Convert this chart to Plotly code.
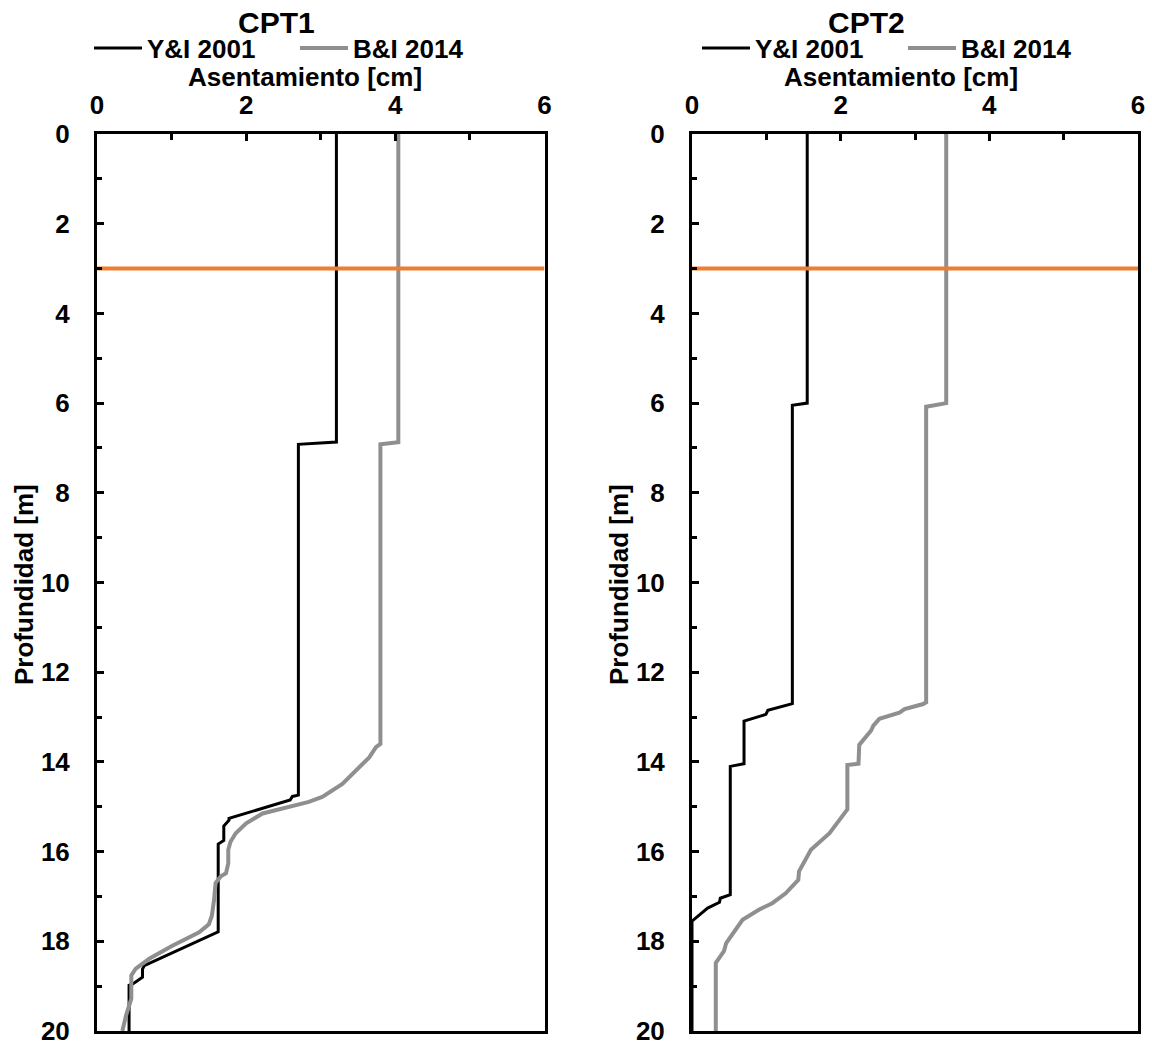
import plotly.graph_objects as go

# ---- settlement profiles: settlement [cm] vs depth [m] ----
# CPT1
cpt1_yi_settle = [3.21, 3.21, 2.70, 2.70, 2.62, 2.59, 1.77, 1.77, 1.70, 1.70, 1.625, 1.625,
                  0.634, 0.61, 0.61, 0.48, 0.43, 0.43]
cpt1_yi_depth = [0.0, 6.87, 6.92, 14.74, 14.77, 14.85, 15.26, 15.30, 15.43, 15.75, 15.83, 17.79,
                 18.54, 18.62, 18.80, 18.95, 18.98, 20.0]

cpt1_bi_settle = [4.04, 4.04, 3.80, 3.80, 3.74, 3.69, 3.65, 3.29, 3.02, 2.84, 2.58, 2.22, 2.00,
                  1.86, 1.79, 1.76, 1.76, 1.73, 1.66, 1.59, 1.57, 1.54, 1.50, 1.37, 1.01, 0.70,
                  0.52, 0.46, 0.46, 0.39, 0.34]
cpt1_bi_depth = [0.0, 6.87, 6.92, 13.60, 13.67, 13.78, 13.90, 14.49, 14.78, 14.89, 15.00, 15.15,
                 15.37, 15.59, 15.78, 15.96, 16.26, 16.48, 16.55, 16.70, 17.07, 17.43, 17.62,
                 17.80, 18.10, 18.39, 18.61, 18.76, 19.28, 19.65, 20.0]

# CPT2
cpt2_yi_settle = [1.55, 1.55, 1.35, 1.35, 1.02, 0.995, 0.70, 0.70, 0.515, 0.515, 0.38, 0.37,
                  0.21, 0.13, 0.03, 0.0, 0.0]
cpt2_yi_depth = [0.0, 6.00, 6.05, 12.70, 12.85, 12.94, 13.09, 14.04, 14.10, 16.96, 17.04, 17.13,
                 17.26, 17.37, 17.50, 17.55, 20.0]

cpt2_bi_settle = [3.42, 3.42, 3.15, 3.15, 3.11, 2.86, 2.79, 2.52, 2.44, 2.41, 2.30, 2.25, 2.24,
                  2.09, 2.09, 1.98, 1.85, 1.60, 1.55, 1.44, 1.43, 1.26, 1.08, 0.905, 0.68, 0.55,
                  0.46, 0.43, 0.32, 0.32]
cpt2_bi_depth = [0.0, 6.00, 6.08, 12.67, 12.71, 12.82, 12.90, 13.04, 13.19, 13.30, 13.52, 13.62,
                 14.04, 14.07, 15.06, 15.30, 15.59, 15.96, 16.11, 16.44, 16.63, 16.93, 17.15,
                 17.29, 17.52, 17.81, 18.04, 18.22, 18.48, 20.0]

# water table depth [m]
water_table_depth = 3.0
settle_range = [0, 6]
depth_range = [20, 0]

series_names = ["Y&I 2001", "B&I 2014"]
panel_titles = ["CPT1", "CPT2"]
x_title = "Asentamiento [cm]"
y_title = "Profundidad [m]"

BLACK = "#000000"
GRAY = "#8F8F8F"
ORANGE = "#ED7D31"
FONT = "Liberation Sans, Arial, sans-serif"

W, H = 1152, 1045


def px_x(p):
    return p / W


def px_y(p):
    return 1 - p / H


fig = go.Figure()

panels = [
    (cpt1_yi_settle, cpt1_yi_depth, cpt1_bi_settle, cpt1_bi_depth, "x", "y", "legend"),
    (cpt2_yi_settle, cpt2_yi_depth, cpt2_bi_settle, cpt2_bi_depth, "x2", "y2", "legend2"),
]
for yi_x, yi_y, bi_x, bi_y, xa, ya, lg in panels:
    fig.add_trace(go.Scatter(x=yi_x, y=yi_y, mode="lines", name=series_names[0],
                             line=dict(color=BLACK, width=3), xaxis=xa, yaxis=ya, legend=lg))
    fig.add_trace(go.Scatter(x=bi_x, y=bi_y, mode="lines", name=series_names[1],
                             line=dict(color=GRAY, width=4), xaxis=xa, yaxis=ya, legend=lg))
    fig.add_trace(go.Scatter(x=settle_range, y=[water_table_depth] * 2, mode="lines",
                             line=dict(color=ORANGE, width=4), showlegend=False,
                             hoverinfo="skip", xaxis=xa, yaxis=ya))

y_dom = [px_y(1031), px_y(134)]
x_doms = [[px_x(97), px_x(544.5)], [px_x(692), px_x(1138)]]

tickfont = dict(family=FONT, size=26, color=BLACK, weight="bold")


def xaxis_cfg(dom, anchor):
    return dict(domain=dom, anchor=anchor, range=settle_range, side="top",
                tickmode="linear", tick0=0, dtick=2, ticks="inside", ticklen=7,
                tickwidth=2.5, tickcolor=BLACK, tickfont=tickfont, ticklabelstandoff=7,
                ticklabeloverflow="allow",
                minor=dict(dtick=1, ticks="inside", ticklen=6, tickwidth=2.5,
                           tickcolor=BLACK, showgrid=False),
                showline=True, linewidth=3, linecolor=BLACK, mirror=True,
                showgrid=False, zeroline=False, automargin=False)


def yaxis_cfg(anchor):
    return dict(domain=y_dom, anchor=anchor, range=depth_range,
                tickmode="linear", tick0=0, dtick=2, ticks="inside", ticklen=7,
                tickwidth=2.5, tickcolor=BLACK, tickfont=tickfont, ticklabelstandoff=19,
                ticklabeloverflow="allow",
                minor=dict(dtick=1, ticks="inside", ticklen=5, tickwidth=2.5,
                           tickcolor=BLACK, showgrid=False),
                showline=True, linewidth=3, linecolor=BLACK, mirror=True,
                showgrid=False, zeroline=False, automargin=False)


legend_common = dict(orientation="h", xanchor="left", yanchor="middle",
                     font=dict(family=FONT, size=26, color=BLACK, weight="bold"),
                     bgcolor="rgba(0,0,0,0)", borderwidth=0, entrywidth=143,
                     itemwidth=48, itemclick=False, itemdoubleclick=False)

annotations = []
for cx, title in zip([276, 866], panel_titles):
    annotations.append(dict(text=title, x=px_x(cx), y=px_y(22.5), xref="paper", yref="paper",
                            xanchor="center", yanchor="middle", showarrow=False,
                            font=dict(family=FONT, size=30, color=BLACK, weight="bold")))
for cx in [305, 901]:
    annotations.append(dict(text=x_title, x=px_x(cx), y=px_y(77), xref="paper", yref="paper",
                            xanchor="center", yanchor="middle", showarrow=False,
                            font=dict(family=FONT, size=26, color=BLACK, weight="bold")))
for cx in [24, 619]:
    annotations.append(dict(text=y_title, x=px_x(cx), y=px_y(585), xref="paper", yref="paper",
                            xanchor="center", yanchor="middle", textangle=-90, showarrow=False,
                            font=dict(family=FONT, size=26, color=BLACK, weight="bold")))

fig.update_layout(
    width=W, height=H,
    margin=dict(l=0, r=0, t=0, b=0, autoexpand=False),
    paper_bgcolor="white", plot_bgcolor="white",
    font=dict(family=FONT, color=BLACK),
    xaxis=xaxis_cfg(x_doms[0], "y"),
    yaxis=yaxis_cfg("x"),
    xaxis2=xaxis_cfg(x_doms[1], "y2"),
    yaxis2=yaxis_cfg("x2"),
    legend=dict(legend_common, x=px_x(89), y=px_y(48)),
    legend2=dict(legend_common, x=px_x(697), y=px_y(48)),
    annotations=annotations,
    showlegend=True,
)

# page body: no default margin and no scrollbars, so the figure fills the window exactly
page_style = ("document.documentElement.style.margin='0';"
              "document.documentElement.style.overflow='hidden';"
              "document.body.style.margin='0';"
              "document.body.style.overflow='hidden';")
fig.write_html("out.html", post_script=page_style)
